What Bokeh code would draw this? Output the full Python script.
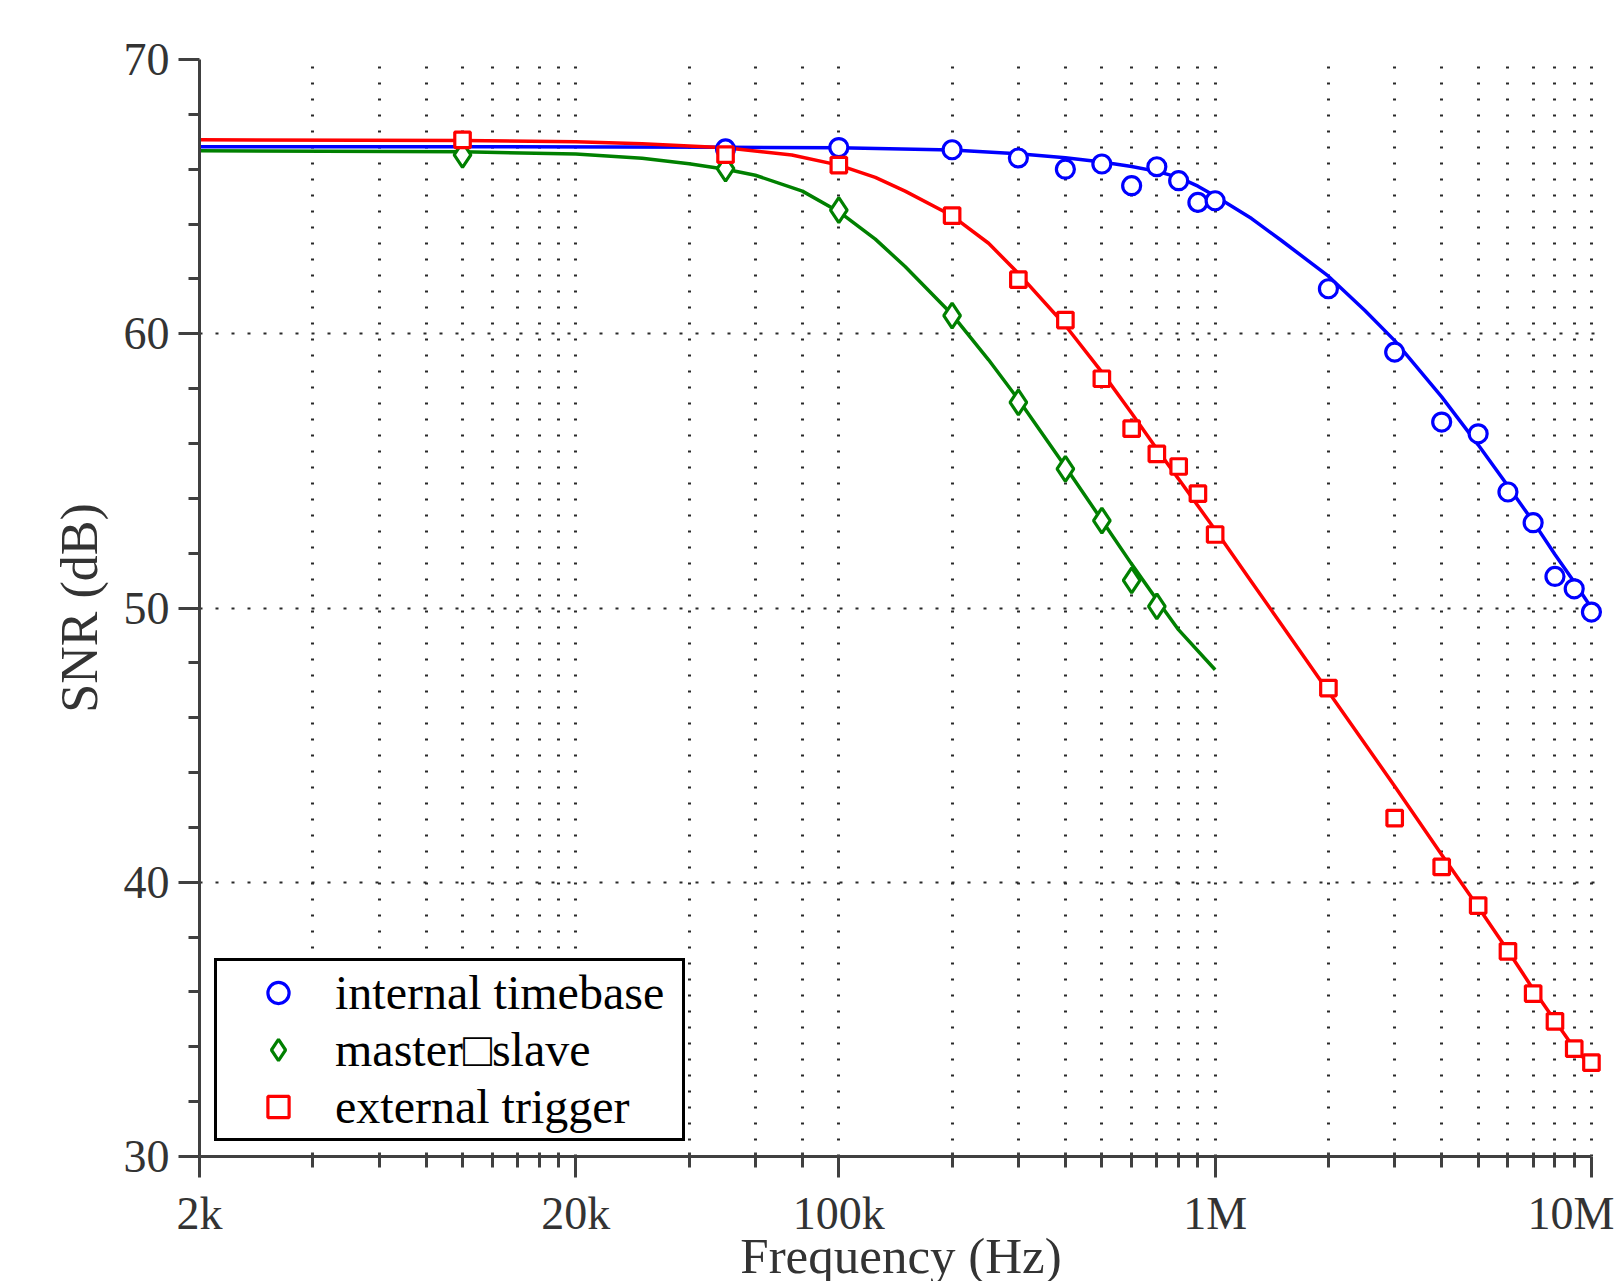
from bokeh.plotting import figure
from bokeh.models import Range1d, FixedTicker, Legend, LegendItem
from bokeh.embed import file_html
from bokeh.resources import INLINE

# ---------------- data ----------------
# measured points
f_internal = [5e4, 1e5, 2e5, 3e5, 4e5, 5e5, 6e5, 7e5, 8e5, 9e5, 1e6,
              2e6, 3e6, 4e6, 5e6, 6e6, 7e6, 8e6, 9e6, 1e7]
snr_internal = [66.74, 66.79, 66.71, 66.41, 66.00, 66.19, 65.40, 66.09, 65.58, 64.79, 64.85,
                61.64, 59.33, 56.78, 56.35, 54.23, 53.11, 51.15, 50.70, 49.85]

f_master = [1e4, 5e4, 1e5, 2e5, 3e5, 4e5, 5e5, 6e5, 7e5]
snr_master = [66.52, 66.02, 64.51, 60.66, 57.50, 55.07, 53.19, 51.01, 50.06]

f_external = [1e4, 5e4, 1e5, 2e5, 3e5, 4e5, 5e5, 6e5, 7e5, 8e5, 9e5, 1e6,
              2e6, 3e6, 4e6, 5e6, 6e6, 7e6, 8e6, 9e6, 1e7]
snr_external = [67.07, 66.53, 66.15, 64.31, 61.97, 60.50, 58.36, 56.54, 55.62, 55.16, 54.17, 52.68,
                47.08, 42.34, 40.56, 39.15, 37.48, 35.94, 34.93, 33.93, 33.42]

# fitted curves
fit_f_internal = [2e3, 1e4, 5e4, 1e5, 2e5, 3e5, 4e5, 5e5, 6e5, 7e5, 8e5, 9e5, 1e6,
                  1.25e6, 1.5e6, 2e6, 2.5e6, 3e6, 4e6, 5e6, 6e6, 7e6, 8e6, 9e6, 1e7]
fit_snr_internal = [66.82, 66.82, 66.80, 66.78, 66.70, 66.56, 66.42, 66.26, 66.10, 65.92, 65.70, 65.38, 65.02,
                    64.20, 63.40, 62.10, 60.85, 59.75, 57.70, 55.95, 54.45, 53.15, 51.95, 50.95, 50.00]

fit_f_master = [2e3, 1e4, 2e4, 3e4, 4e4, 5e4, 6e4, 8e4, 1e5, 1.25e5, 1.5e5, 2e5,
                2.5e5, 3e5, 4e5, 5e5, 6e5, 7e5, 8e5, 1e6]
fit_snr_master = [66.67, 66.64, 66.55, 66.40, 66.20, 66.00, 65.78, 65.20, 64.45, 63.45, 62.45, 60.70,
                  59.05, 57.60, 55.15, 53.20, 51.60, 50.30, 49.20, 47.75]

fit_f_external = [2e3, 1e4, 2e4, 3e4, 5e4, 7.5e4, 1e5, 1.25e5, 1.5e5, 2e5, 2.5e5, 3e5, 4e5, 5e5,
                  6e5, 7e5, 8e5, 1e6, 1.25e6, 1.5e6, 2e6, 3e6, 4e6, 5e6, 6e6, 7e6, 8e6, 9e6, 1e7]
fit_snr_external = [67.07, 67.05, 67.00, 66.93, 66.78, 66.52, 66.15, 65.70, 65.20, 64.30, 63.30, 62.20, 60.30, 58.60,
                    57.10, 55.80, 54.70, 52.85, 50.95, 49.40, 46.95, 43.50, 41.00, 39.10, 37.50, 36.10, 34.95, 33.95, 33.30]

series_labels = ["internal timebase", "master\u25a1slave", "external trigger"]

x_major_ticks = [2e3, 2e4, 1e5, 1e6, 1e7]
x_major_labels = ["2k", "20k", "100k", "1M", "10M"]
x_minor_ticks = [4e3, 6e3, 8e3, 1e4, 1.2e4, 1.4e4, 1.6e4, 1.8e4,
                 4e4, 6e4, 8e4,
                 2e5, 3e5, 4e5, 5e5, 6e5, 7e5, 8e5, 9e5,
                 2e6, 3e6, 4e6, 5e6, 6e6, 7e6, 8e6, 9e6]
y_major_ticks = [30, 40, 50, 60, 70]
y_minor_ticks = [32, 34, 36, 38, 42, 44, 46, 48, 52, 54, 56, 58, 62, 64, 66, 68]

BLUE = "#0000ff"
GREEN = "#008000"
RED = "#ff0000"
AXIS = "#404040"
TEXT = "#333333"
GRID = "#2a2a2a"
FONT = "Liberation Serif"

# ---------------- figure ----------------
# the x range runs a little past 10M so that the last markers are not clipped;
# the axis itself is bounded to 2k..10M
p = figure(width=1614, height=1281, frame_width=1403, frame_height=1097,
           x_axis_type="log", x_range=Range1d(2e3, 1.07e7), y_range=Range1d(30, 70),
           output_backend="svg", toolbar_location=None,
           min_border_left=199, min_border_right=12, min_border_top=59, min_border_bottom=125)
p.outline_line_color = None
p.background_fill_color = "white"
p.border_fill_color = "white"

xt = FixedTicker(ticks=x_major_ticks, minor_ticks=x_minor_ticks)
yt = FixedTicker(ticks=y_major_ticks, minor_ticks=y_minor_ticks)
p.xaxis.ticker = xt
p.yaxis.ticker = yt
p.xgrid.ticker = xt
p.ygrid.ticker = yt
p.xaxis.bounds = (x_major_ticks[0], x_major_ticks[-1])
p.xaxis.major_label_overrides = {t: l for t, l in zip(x_major_ticks, x_major_labels)}

# grids (dotted)
p.xgrid.grid_line_color = GRID
p.xgrid.grid_line_width = 3
p.xgrid.grid_line_dash = "2 14"
p.xgrid.minor_grid_line_color = GRID
p.xgrid.minor_grid_line_width = 3
p.xgrid.minor_grid_line_dash = "2 14"
p.ygrid.grid_line_color = GRID
p.ygrid.grid_line_width = 2
p.ygrid.grid_line_dash = "3 13"
p.ygrid.minor_grid_line_color = None

for ax in (p.xaxis[0], p.yaxis[0]):
    ax.axis_line_color = AXIS
    ax.axis_line_width = 3
    ax.major_tick_line_color = AXIS
    ax.major_tick_line_width = 3
    ax.minor_tick_line_color = AXIS
    ax.minor_tick_line_width = 3
    ax.major_tick_in = 0
    ax.major_tick_out = 21
    ax.minor_tick_out = 11
    ax.major_label_text_font = FONT
    ax.major_label_text_font_size = "46px"
    ax.major_label_text_color = TEXT
    ax.axis_label_text_font = FONT
    ax.axis_label_text_font_style = "normal"
    ax.axis_label_text_color = TEXT

p.xaxis.minor_tick_in = 4
p.yaxis.minor_tick_in = 0
p.xaxis.major_label_standoff = 10
p.yaxis.major_label_standoff = 9

p.yaxis.axis_label = "SNR (dB)"
p.yaxis.axis_label_text_font_size = "52px"
p.yaxis.axis_label_standoff = 13

p.xaxis.axis_label = "Frequency (Hz)"
p.xaxis.axis_label_text_font_size = "51px"
p.xaxis.axis_label_standoff = -14

# fitted lines
p.line(fit_f_internal, fit_snr_internal, line_color=BLUE, line_width=3.5)
p.line(fit_f_master, fit_snr_master, line_color=GREEN, line_width=3.5)
p.line(fit_f_external, fit_snr_external, line_color=RED, line_width=3.5)

# measured markers
r_int = p.scatter(f_internal, snr_internal, marker="circle", size=18,
                  line_color=BLUE, line_width=3.2, fill_color="white")
r_mas = p.scatter(f_master, snr_master, marker="diamond", size=25,
                  line_color=GREEN, line_width=3.2, fill_color="white")
r_ext = p.scatter(f_external, snr_external, marker="square", size=15.5,
                  line_color=RED, line_width=3.2, fill_color="white")

legend = Legend(items=[LegendItem(label=series_labels[0], renderers=[r_int]),
                       LegendItem(label=series_labels[1], renderers=[r_mas]),
                       LegendItem(label=series_labels[2], renderers=[r_ext])],
                location=(15, 15))
legend.margin = 0
legend.padding = 4
legend.spacing = 2
legend.glyph_width = 114
legend.glyph_height = 53
legend.label_height = 53
legend.label_width = 343
legend.label_standoff = 0
legend.label_text_font = FONT
legend.label_text_font_size = "48px"
legend.label_text_color = "black"
legend.border_line_color = "black"
legend.border_line_alpha = 1
legend.border_line_width = 3
legend.background_fill_color = "white"
legend.background_fill_alpha = 1
p.add_layout(legend)

open("out.html", "w").write(file_html(p, INLINE))
